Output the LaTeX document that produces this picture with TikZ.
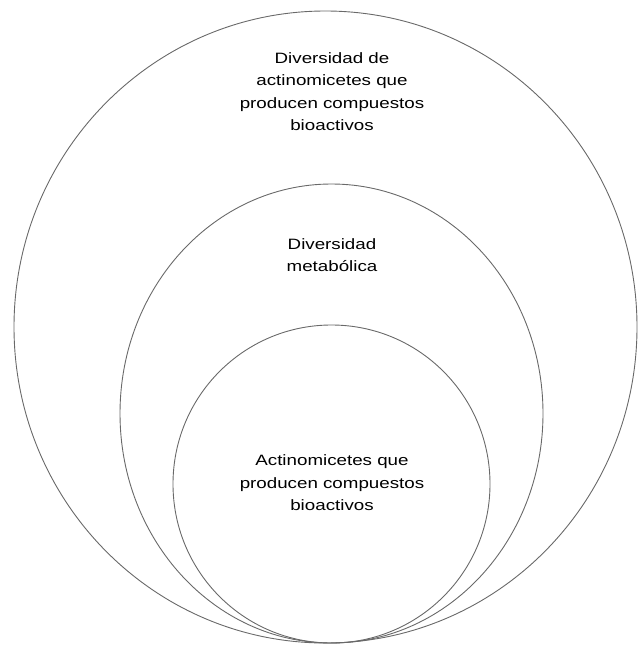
\documentclass[tikz,border=0pt]{standalone}
\usepackage{fontspec}
\setmainfont{Liberation Sans}
\newfontfamily\labelfont[FakeStretch=1.25]{Liberation Sans}
\usetikzlibrary{shapes.geometric}
\definecolor{ringgray}{RGB}{105,105,105}
\begin{document}
\begin{tikzpicture}[x=1pt,y=-1pt,
  ring/.style={draw=ringgray, line width=0.9pt, ellipse, inner sep=0pt},
  lbl/.style={align=center, inner sep=0pt,
    font=\labelfont\fontsize{15}{22.5}\selectfont}]
  \useasboundingbox (0,0) rectangle (638,645);
  % nested sets, all touching at the bottom
  \node[ring, minimum width=623pt, minimum height=632pt] (outer) at (325.5,327) {};
  \node[ring, minimum width=423pt, minimum height=459pt] (middle) at (331.5,413.5) {};
  \node[ring, minimum width=317pt, minimum height=318pt] (inner) at (331.5,484) {};
  % labels
  \node[lbl] (outerlbl) at (332,91.5) {Diversidad de\\actinomicetes que\\producen compuestos\\bioactivos};
  \node[lbl] (middlelbl) at (332,255) {Diversidad\\metabólica};
  \node[lbl] (innerlbl) at (332,483) {Actinomicetes que\\producen compuestos\\bioactivos};
\end{tikzpicture}
\end{document}
